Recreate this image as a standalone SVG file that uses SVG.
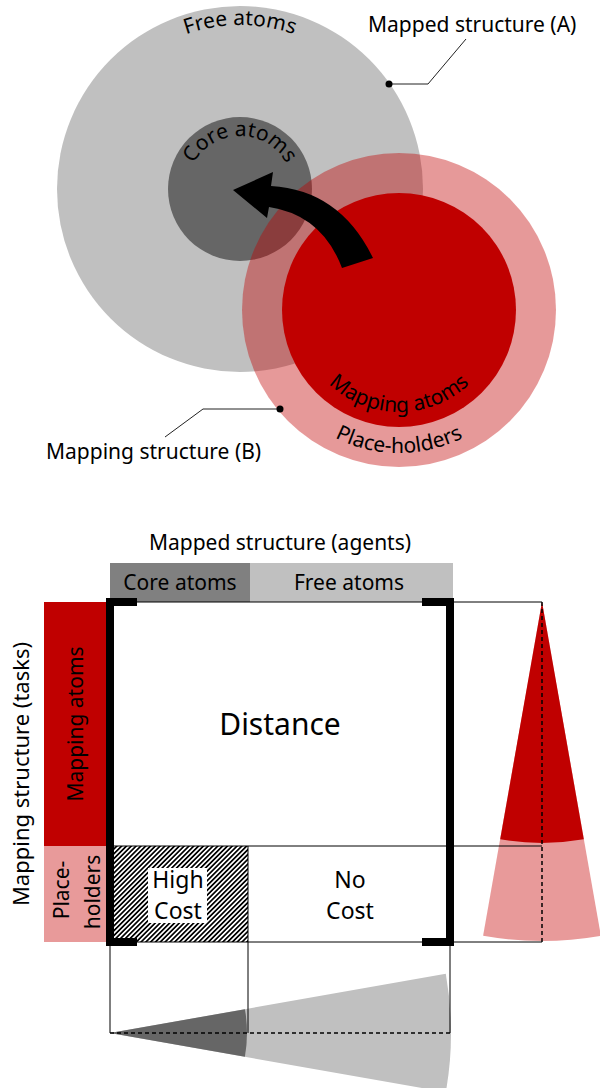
<svg xmlns="http://www.w3.org/2000/svg" width="600" height="1088" viewBox="0 0 600 1088">
<defs>
<style>
text { font-family: "Noto Sans", "Open Sans", "DejaVu Sans", sans-serif; font-size: 21px; fill: #000; }
.mid { text-anchor: middle; }
.thin { stroke: #000; stroke-width: 1; fill: none; }
.dash { stroke: #000; stroke-width: 1.5; stroke-dasharray: 4 3; fill: none; }
.bracket { stroke: #000; stroke-width: 8; fill: none; stroke-linecap: butt; stroke-linejoin: miter; }
.lead { stroke: #222; stroke-width: 1; fill: none; }
.grey { fill: #c0c0c0; }
.dark { fill: #666666; }
.red { fill: #c00000; }
.pink { fill: #e89a9a; }
</style>
<pattern id="hatch" patternUnits="userSpaceOnUse" width="3.4" height="3.4" patternTransform="rotate(45)">
<rect width="3.4" height="3.4" fill="#fff"/>
<rect width="1.7" height="3.4" fill="#000"/>
</pattern>
<path id="arcFree" d="M 76 189 A 164 164 0 0 1 404 189"/>
<path id="arcCore" d="M 187 189 A 53 53 0 0 1 293 189"/>
<path id="arcMap" d="M 297 310 A 102 102 0 0 0 501 310"/>
<path id="arcPlace" d="M 256 310 A 143 143 0 0 0 542 310"/>
</defs>

<!-- Venn part -->
<g id="mapped-structure-A">
<circle cx="240" cy="189" r="183" class="grey"/>
<text><textPath href="#arcFree" startOffset="50%" text-anchor="middle">Free atoms</textPath></text>
</g>
<g id="core-atoms">
<circle cx="240" cy="189" r="72" class="dark"/>
</g>
<g id="mapping-structure-B">
<circle cx="399" cy="310" r="157" fill="#c00000" fill-opacity="0.4"/>
<circle cx="399" cy="310" r="117" class="red"/>
<text><textPath href="#arcMap" startOffset="50%" text-anchor="middle">Mapping atoms</textPath></text>
<text><textPath href="#arcPlace" startOffset="50%" text-anchor="middle">Place-holders</textPath></text>
</g>
<g id="core-atoms-label">
<text><textPath href="#arcCore" startOffset="50%" text-anchor="middle">Core atoms</textPath></text>
</g>
<g id="mapping-arrow">
<path d="M 233 190 L 273 172 L 271 186 Q 340 190 373 258 L 342 268 Q 322 215 269 207 L 267 218 Z" fill="#000"/>
</g>

<g id="label-A">
<text x="368" y="32">Mapped structure (A)</text>
</g>
<g id="label-B">
<text x="46" y="459">Mapping structure (B)</text>
</g>

<g id="leaders">
<path class="lead" d="M 389 84 H 428 L 466 39"/>
<circle cx="389" cy="84" r="3.5" fill="#000"/>
<path class="lead" d="M 280 409 H 203 L 165 437"/>
<circle cx="280" cy="409" r="3.5" fill="#000"/>
</g>

<!-- Matrix part -->
<g id="header">
<text x="280" y="550" class="mid">Mapped structure (agents)</text>
<rect x="110" y="563" width="140" height="39" fill="#808080"/>
<rect x="250" y="563" width="203" height="39" class="grey"/>
<text x="180" y="590" class="mid">Core atoms</text>
<text x="349" y="590" class="mid">Free atoms</text>
</g>

<g id="side">
<text transform="translate(29,774) rotate(-90)" class="mid" style="font-size:22px">Mapping structure (tasks)</text>
<rect x="44" y="602" width="62" height="244" class="red"/>
<rect x="44" y="846" width="62" height="96" class="pink"/>
<text transform="translate(83,724) rotate(-90)" class="mid">Mapping atoms</text>
<text transform="translate(69,890) rotate(-90)" class="mid">Place-</text>
<text transform="translate(100,892) rotate(-90)" class="mid">holders</text>
</g>

<g id="high-cost">
<rect x="110" y="846" width="138" height="96" fill="url(#hatch)"/>
<rect x="148" y="868" width="59" height="55" fill="#fff"/>
<text x="178" y="888" class="mid" style="font-size:23px">High</text>
<text x="178" y="919" class="mid" style="font-size:23px">Cost</text>
</g>

<g id="no-cost">
<text x="350" y="888" class="mid" style="font-size:23px">No</text>
<text x="350" y="919" class="mid" style="font-size:23px">Cost</text>
</g>

<g id="distance">
<text x="280" y="735" class="mid" style="font-size:30px">Distance</text>
</g>

<g id="task-wedge">
<path d="M 542 602 L 483.1 935.8 A 339 339 0 0 0 600.9 935.8 Z" class="pink"/>
<path d="M 542 602 L 500.2 839.3 A 241 241 0 0 0 583.8 839.3 Z" class="red"/>
</g>

<g id="agent-wedge">
<path d="M 110 1033 L 445.8 973.8 A 341 341 0 0 1 445.8 1092.2 Z" class="grey"/>
<path d="M 110 1033 L 244.9 1009.2 A 137 137 0 0 1 244.9 1056.8 Z" class="dark"/>
</g>

<g id="connectors">
<path class="thin" d="M 110 602 H 542"/>
<path class="thin" d="M 110 846 H 542"/>
<path class="thin" d="M 110 942 H 542"/>
<path class="thin" d="M 110 942 V 1033"/>
<path class="thin" d="M 248 846 V 1033"/>
<path class="thin" d="M 450 942 V 1033"/>
<path class="dash" d="M 542 602 V 942"/>
<path class="dash" d="M 110 1033 H 450"/>
<path class="bracket" d="M 137 602 H 110 V 942 H 137"/>
<path class="bracket" d="M 422 602 H 450 V 942 H 422"/>
</g>
</svg>
